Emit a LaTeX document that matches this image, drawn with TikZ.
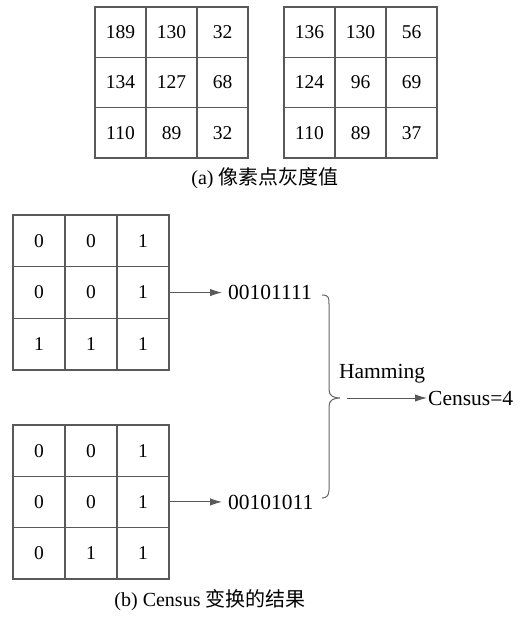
\documentclass[tikz,border=0pt]{standalone}
\usepackage{fontspec}
\setmainfont{Liberation Serif}
\newfontfamily\cjk{Noto Sans CJK SC}
\usetikzlibrary{arrows.meta}
\begin{document}
\begin{tikzpicture}[x=1pt,y=-1pt,
  txt/.style={font=\fontsize{21.5}{25}\selectfont,inner sep=0pt},
  captxt/.style={font=\fontsize{20}{24}\selectfont,inner sep=0pt},
  cellA/.style={draw=black!65,line width=1.3pt,minimum width=51pt,minimum height=50.3pt,inner sep=0pt,font=\fontsize{19.5}{23}\selectfont},
  cellB/.style={draw=black!65,line width=1.3pt,minimum width=52pt,minimum height=51.5pt,inner sep=0pt,font=\fontsize{19.5}{23}\selectfont},
  conn/.style={draw=black!65,line width=1pt,-{Latex[length=12pt,width=7.5pt]}},
  bracepath/.style={draw=black!60,line width=1pt}]
\useasboundingbox (0,0) rectangle (520,617);
% grid a1
\foreach \r/\row in {1/{189,130,32},2/{134,127,68},3/{110,89,32}}{
  \foreach \v [count=\c] in \row {
    \node[cellA] (a1-\r-\c) at ({95+51*(\c-0.5)},{7+50.3*(\r-0.5)}) {\v};
  }
}
% grid a2
\foreach \r/\row in {1/{136,130,56},2/{124,96,69},3/{110,89,37}}{
  \foreach \v [count=\c] in \row {
    \node[cellA] (a2-\r-\c) at ({284+51*(\c-0.5)},{7+50.3*(\r-0.5)}) {\v};
  }
}
\node[captxt] (capa) at (265,178) {(a) {\cjk 像素点灰度值}};
% grid b1
\foreach \r/\row in {1/{0,0,1},2/{0,0,1},3/{1,1,1}}{
  \foreach \v [count=\c] in \row {
    \node[cellB] (b1-\r-\c) at ({13+52*(\c-0.5)},{215+51.7*(\r-0.5)}) {\v};
  }
}
% grid b2
\foreach \r/\row in {1/{0,0,1},2/{0,0,1},3/{0,1,1}}{
  \foreach \v [count=\c] in \row {
    \node[cellB] (b2-\r-\c) at ({13+52*(\c-0.5)},{425+51.3*(\r-0.5)}) {\v};
  }
}
\node[txt,anchor=west,inner xsep=6pt] (bits1) at (222,292.5) {00101111};
\node[txt,anchor=west,inner xsep=6pt] (bits2) at (222,502) {00101011};
\draw[conn] (b1-2-3.east) -- (b1-2-3.east -| bits1.west);
\draw[conn] (b2-2-3.east) -- (b2-2-3.east -| bits2.west);
% brace
\coordinate (bt) at (322,295);
\coordinate (bm) at (340,398);
\coordinate (bb) at (322,498);
\draw[bracepath] (bt) .. controls (329,295) and (329,298) .. (329,304)
  -- (329,390) .. controls (329,396) and (334,398) .. (bm)
  .. controls (334,398) and (329,400) .. (329,406)
  -- (329,490) .. controls (329,496) and (326,498) .. (bb);
\node[txt,anchor=west,inner xsep=1pt] (census) at (427,398) {Census=4};
\coordinate (hs) at (347,398);
\draw[conn] (hs) -- (hs -| census.west);
\node[txt] (ham) at (382,374) {Hamming};
\node[captxt] (capb) at (210,600) {(b) Census {\cjk 变换的结果}};
\end{tikzpicture}
\end{document}
